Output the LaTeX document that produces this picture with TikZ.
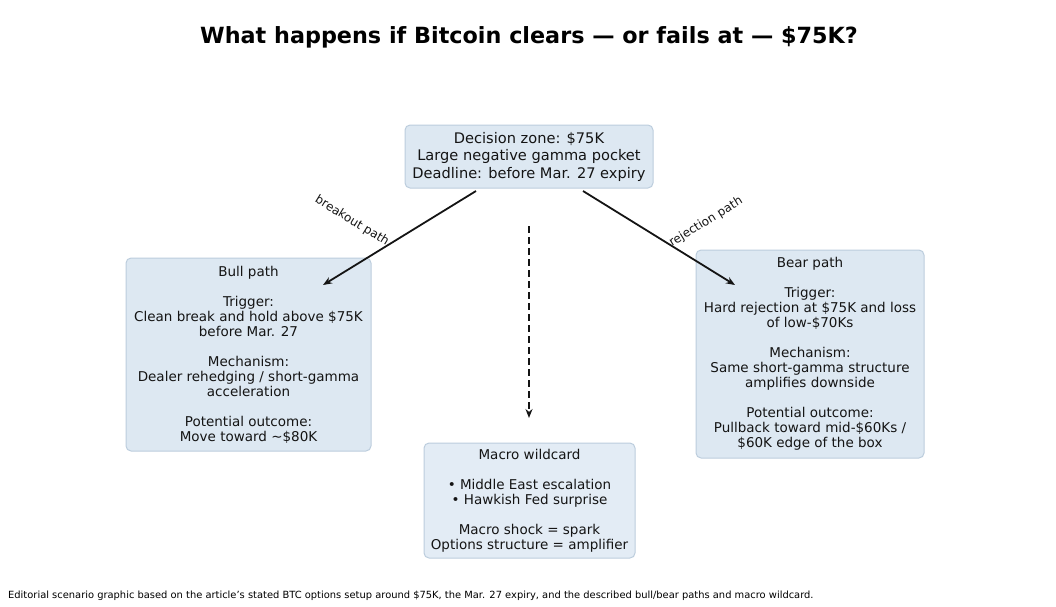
\documentclass[tikz,border=0pt]{standalone}
\usepackage{fontspec}
\setmainfont{DejaVu Sans}
\usetikzlibrary{arrows.meta}
\definecolor{boxfill}{RGB}{221,232,242}
\definecolor{macrofill}{RGB}{227,236,245}
\definecolor{boxline}{RGB}{188,205,221}
\definecolor{inkgray}{RGB}{20,20,20}

\begin{document}
\begin{tikzpicture}[x=1pt,y=-1pt,>={Stealth[length=9pt,width=7pt]},
    box/.style={draw=boxline, fill=boxfill, rounded corners=5pt, line width=1pt, align=center, inner sep=0pt, text=inkgray},
    pathlabel/.style={font=\fontsize{12}{14}\selectfont, text=inkgray},
    flow/.style={->, line width=1.8pt, inkgray}]
        \useasboundingbox (0,0) rectangle (1056,606);
        \node (title) at (529,37) {\fontsize{22.3}{26}\selectfont\bfseries What happens if Bitcoin clears — or fails at — \$75K?};

        \node (zone) [box, minimum width=248pt, minimum height=63pt, font=\fontsize{14.6}{17.5}\selectfont] at (529,156.5)
            {Decision zone: \$75K\\Large negative gamma pocket\\Deadline: before Mar. 27 expiry};
        \node (bull) [box, minimum width=245pt, minimum height=193pt, font=\fontsize{13.5}{15}\selectfont] at (248.5,354.5)
            {Bull path\\[15pt]Trigger:\\Clean break and hold above \$75K\\before Mar. 27\\[15pt]Mechanism:\\Dealer rehedging / short-gamma\\acceleration\\[15pt]Potential outcome:\\Move toward \textasciitilde\$80K};
        \node (bear) [box, minimum width=228pt, minimum height=208pt, font=\fontsize{13.5}{15}\selectfont] at (810,354)
            {Bear path\\[15pt]Trigger:\\Hard rejection at \$75K and loss\\of low-\$70Ks\\[15pt]Mechanism:\\Same short-gamma structure\\amplifies downside\\[15pt]Potential outcome:\\Pullback toward mid-\$60Ks /\\\$60K edge of the box};
        \node (macro) [box, fill=macrofill, minimum width=211pt, minimum height=115pt, font=\fontsize{13.5}{15}\selectfont] at (529.5,500.5)
            {Macro wildcard\\[15pt]• Middle East escalation\\• Hawkish Fed surprise\\[15pt]Macro shock = spark\\Options structure = amplifier};

        % arrow ends
        \coordinate (bullstart) at (476,191);
        \coordinate (bullend) at (323,285);
        \coordinate (bearstart) at (583,191);
        \coordinate (bearend) at (735,285);
        \coordinate (macrostart) at (529,226);
        \coordinate (macroend) at (529,418);

        \draw[flow] (bullstart) -- (bullend);
        \draw[flow] (bearstart) -- (bearend);
        \draw[flow, dash pattern=on 7pt off 4pt] (macrostart) -- (macroend);

        \node (breakout) [pathlabel, rotate=-31.6] at (352,221) {breakout path};
        \node (rejection) [pathlabel, rotate=31.6] at (706,222) {rejection path};

        \node (note) [anchor=base west, inner sep=0pt, font=\fontsize{9.9}{11}\selectfont] at (8,598)
            {Editorial scenario graphic based on the article's stated BTC options setup around \$75K, the Mar. 27 expiry, and the described bull/bear paths and macro wildcard.};
    \end{tikzpicture}
\end{document}
